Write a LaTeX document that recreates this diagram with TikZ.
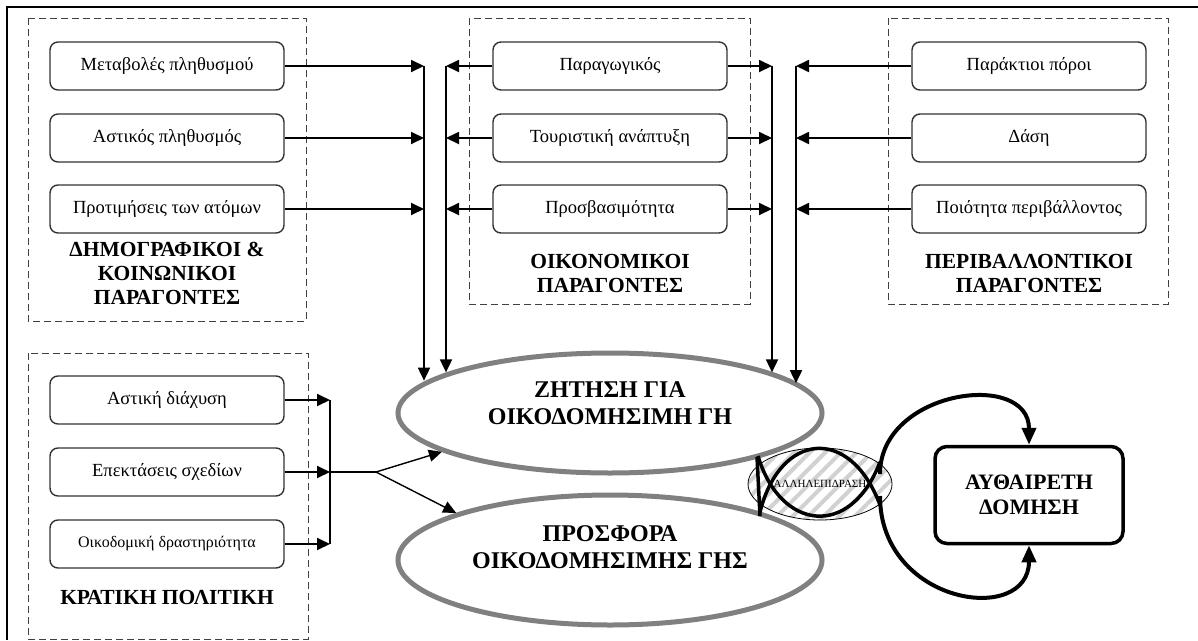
\documentclass[tikz,border=0pt]{standalone}
\usepackage{fontspec}
\setmainfont{Liberation Serif}
\usetikzlibrary{arrows.meta,shapes.geometric,patterns.meta}

\begin{document}
\begin{tikzpicture}[x=1pt, y=-1pt]
	\tikzset{factor/.style = {shape=rectangle, rounded corners=8pt, draw=black!80, line width=1.4pt, minimum width=234pt, minimum height=48pt, font=\fontsize{18.5}{20}\selectfont}}
	\tikzset{group/.style = {draw=black!75, line width=1pt, dash pattern=on 7pt off 4pt}}
	\tikzset{title/.style = {align=center, font=\fontsize{21.5}{24}\selectfont\bfseries}}
	\tikzset{market/.style = {shape=ellipse, draw=black!50, line width=5pt, minimum width=424pt, minimum height=120pt}}
	\tikzset{edge/.style = {-{Triangle[length=13pt, width=12pt]}, line width=1.8pt}}
	\tikzset{thinedge/.style = {-{Triangle[length=13pt, width=12pt]}, line width=1.4pt}}
	\tikzset{loopedge/.style = {-{Triangle[length=17pt, width=14pt]}, line width=4pt}}
	\useasboundingbox (0,0) rectangle (1198,640);
	\draw[line width=2.5pt] (1198,7) -| (7,640);
	% dashed groups
	\draw[group] (28,18) rectangle (306,321);
	\draw[group] (469,18) rectangle (750,304);
	\draw[group] (888,18) rectangle (1168,304);
	\draw[group] (28,353) rectangle (308,639);
	% factors
	\node[factor] (pop) at (167,66) {Μεταβολές πληθυσμού};
	\node[factor] (urb) at (167,138) {Αστικός πληθυσμός};
	\node[factor] (pref) at (167,209) {Προτιμήσεις των ατόμων};
	\node[title] (demlabel) at (167,273) {ΔΗΜΟΓΡΑΦΙΚΟΙ \&\\ΚΟΙΝΩΝΙΚΟΙ\\ΠΑΡΑΓΟΝΤΕΣ};
	\node[factor] (prod) at (610,66) {Παραγωγικός};
	\node[factor] (tour) at (610,138) {Τουριστική ανάπτυξη};
	\node[factor] (access) at (610,209) {Προσβασιμότητα};
	\node[title] (ecolabel) at (610,273) {ΟΙΚΟΝΟΜΙΚΟΙ\\ΠΑΡΑΓΟΝΤΕΣ};
	\node[factor] (coast) at (1029,66) {Παράκτιοι πόροι};
	\node[factor] (forest) at (1029,138) {Δάση};
	\node[factor] (envq) at (1029,209) {Ποιότητα περιβάλλοντος};
	\node[title] (envlabel) at (1029,273) {ΠΕΡΙΒΑΛΛΟΝΤΙΚΟΙ\\ΠΑΡΑΓΟΝΤΕΣ};
	\node[factor] (sprawl) at (167,400) {Αστική διάχυση};
	\node[factor] (plans) at (167,472) {Επεκτάσεις σχεδίων};
	\node[factor, font=\fontsize{16}{18}\selectfont] (build) at (167,544) {Οικοδομική δραστηριότητα};
	\node[title] (pollabel) at (167,597) {ΚΡΑΤΙΚΗ ΠΟΛΙΤΙΚΗ};
	% market
	\node[market] (demand) at (610,413) {};
	\node[market, minimum height=130pt] (supply) at (610,560) {};
	\node[title, font=\fontsize{24}{27}\selectfont\bfseries] (demtext) at (610,403) {ΖΗΤΗΣΗ ΓΙΑ\\ΟΙΚΟΔΟΜΗΣΙΜΗ ΓΗ};
	\node[title, font=\fontsize{24}{27}\selectfont\bfseries] (suptext) at (610,547) {ΠΡΟΣΦΟΡΑ\\ΟΙΚΟΔΟΜΗΣΙΜΗΣ ΓΗΣ};
	% interaction
	\node[shape=ellipse, draw, line width=0.8pt, pattern={Lines[angle=45, distance=11pt, line width=4pt]}, pattern color=black!18, minimum width=144pt, minimum height=72pt] (inter) at (820,484) {};
	\draw[line width=3.5pt] (757,457) -- (760,516);
	\draw[line width=3.5pt] (760,512) .. controls (780,432) and (850,425) .. (880,505);
	\draw[line width=3.5pt] (758,456) .. controls (780,530) and (850,540) .. (880,462);
	\node[font=\fontsize{11}{12}\selectfont] (intertext) at (inter.center) {ΑΛΛΗΛΕΠΙΔΡΑΣΗ};
	\node[shape=rectangle, draw, rounded corners=12pt, line width=3.5pt, minimum width=188pt, minimum height=97pt, align=center, font=\fontsize{22}{25}\selectfont\bfseries] (result) at (1029,495) {ΑΥΘΑΙΡΕΤΗ\\ΔΟΜΗΣΗ};
	% connectors
	\coordinate (busA) at (424,66);
	\coordinate (busB) at (446,66);
	\coordinate (busC) at (772,66);
	\coordinate (busD) at (796,66);
	\foreach \n in {pop,urb,pref}
		\draw[edge] (\n.east) -- (\n.east -| busA);
	\foreach \n in {prod,tour,access} {
		\draw[edge] (\n.west) -- (\n.west -| busB);
		\draw[edge] (\n.east) -- (\n.east -| busC);
	}
	\foreach \n in {coast,forest,envq}
		\draw[edge] (\n.west) -- (\n.west -| busD);
	\draw[edge] (busA) -- (busA |- demand.170);
	\draw[edge] (busB) -- (busB |- demand.166);
	\draw[edge] (busC) -- (busC |- demand.14);
	\draw[edge] (busD) -- (busD |- demand.9);
	\coordinate (polbus) at (330,472);
	\coordinate (fork) at (376,472);
	\foreach \n in {sprawl,plans,build}
		\draw[edge] (\n.east) -- (\n.east -| polbus);
	\draw[line width=1.4pt] (sprawl.east -| polbus) -- (build.east -| polbus);
	\draw[line width=1.4pt] (polbus) -- (fork);
	\draw[thinedge] (fork) -- (demand.193);
	\draw[thinedge] (fork) -- (supply.163);
	\draw[loopedge] ([xshift=-14pt, yshift=10pt]inter.east) .. controls +(0,-84) and +(0,-75) .. (result.north);
	\draw[loopedge] ([xshift=-14pt, yshift=-12pt]inter.east) .. controls +(0,109) and +(0,81) .. (result.south);
\end{tikzpicture}
\end{document}
